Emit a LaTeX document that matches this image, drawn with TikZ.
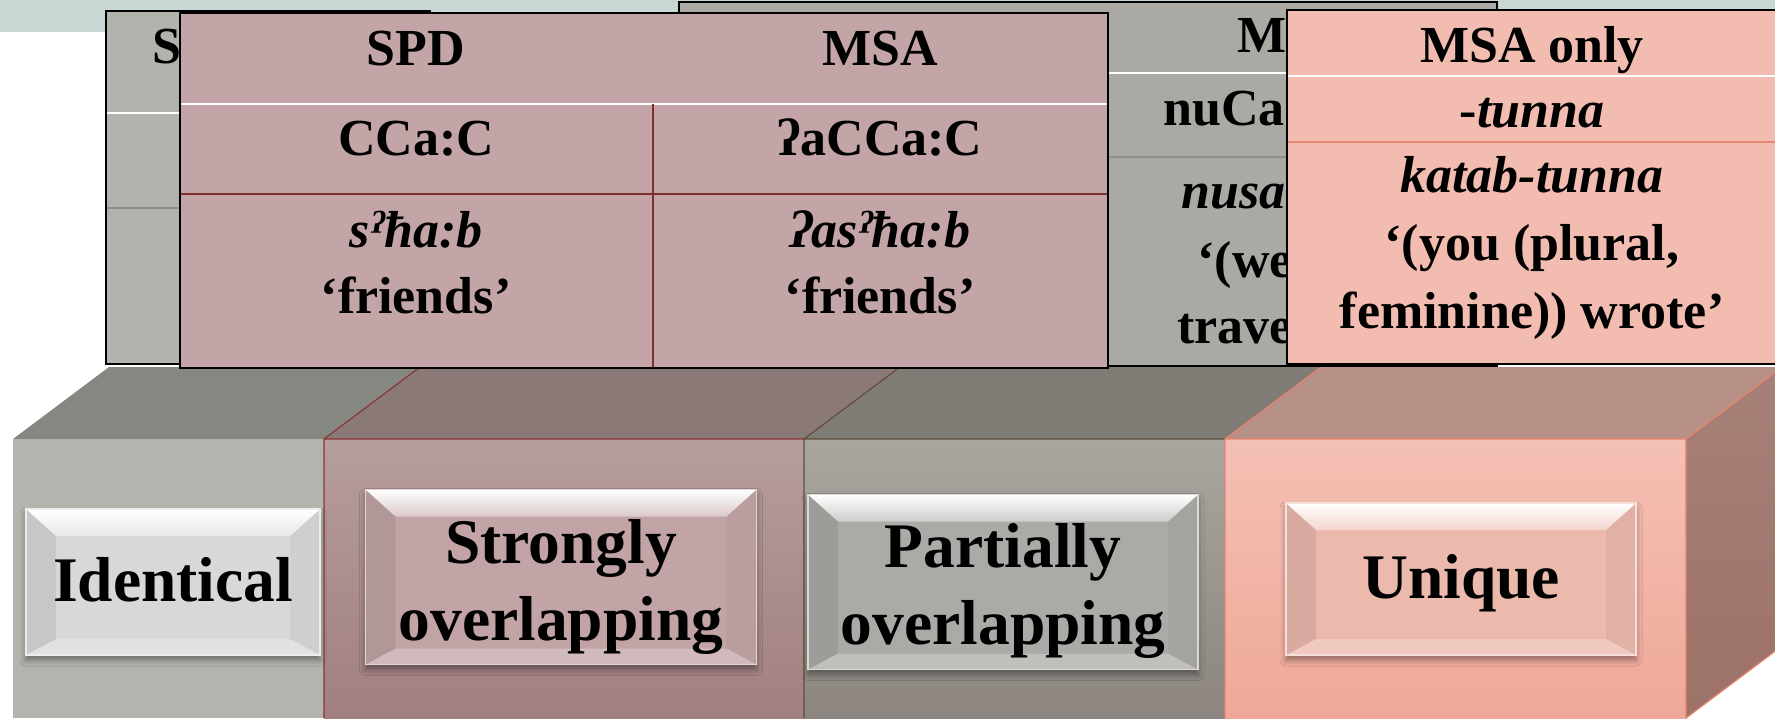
\documentclass[tikz,border=0pt]{standalone}
\usepackage{fontspec}
\setmainfont{Liberation Serif}
\usetikzlibrary{shadows.blur}

\definecolor{band}{HTML}{C8D8D4}
\definecolor{greyA}{HTML}{B1B3AC}
\definecolor{greyB}{HTML}{AAA9A4}
\definecolor{rose}{HTML}{C4A5A7}
\definecolor{salmon}{HTML}{F2BDB0}
\definecolor{greyrule}{HTML}{8C8F8A}
\definecolor{roserule}{HTML}{7D2F2F}
\definecolor{salmonrule}{HTML}{E88A72}
\definecolor{cAtop}{HTML}{858781}
\definecolor{cAfront}{HTML}{B2B4AD}
\definecolor{cBtop}{HTML}{8B7978}
\definecolor{cBhi}{HTML}{B79D9E}
\definecolor{cBlo}{HTML}{A17F80}
\definecolor{cBline}{HTML}{8A3535}
\definecolor{cCtop}{HTML}{7F7B75}
\definecolor{cChi}{HTML}{A9A69F}
\definecolor{cClo}{HTML}{8C8580}
\definecolor{cCline}{HTML}{5E4E3C}
\definecolor{cDtop}{HTML}{B79087}
\definecolor{cDhi}{HTML}{F4C0B4}
\definecolor{cDlo}{HTML}{EFA898}
\definecolor{cDside}{HTML}{9D7268}
\definecolor{cDline}{HTML}{E8836B}
\definecolor{btnA}{HTML}{D8D8D8}
\definecolor{btnB}{HTML}{C2A4A6}
\definecolor{btnC}{HTML}{ABAAA6}
\definecolor{btnD}{HTML}{ECB9AD}

\newcommand\lblfont{\fontsize{31.75}{38.5}\selectfont\bfseries}
\newcommand\tabfont{\fontsize{26}{33.5}\selectfont\bfseries}

\tikzset{
  frame/.style={draw=black, line width=1.2pt},
  whiterule/.style={draw=white, line width=1pt},
  tabtxt/.style={font=\tabfont, inner sep=0pt, anchor=base},
  tabtxtL/.style={font=\tabfont, inner sep=0pt, anchor=base west},
  lbl/.style={font=\lblfont, align=center, inner sep=0pt},
  btn/.style={fill=#1, draw=white!55!#1, line width=0.6pt, inner sep=0pt,
    blur shadow={shadow xshift=0pt, shadow yshift=-2.5pt,
                 shadow blur radius=3pt, shadow opacity=40},
    path picture={
      \fill[black, opacity=0.08]
        (path picture bounding box.north west)
        -- ([shift={(30,27)}]path picture bounding box.north west)
        -- ([shift={(30,-16)}]path picture bounding box.south west)
        -- (path picture bounding box.south west) -- cycle;
      \fill[black, opacity=0.04]
        (path picture bounding box.north east)
        -- ([shift={(-30,27)}]path picture bounding box.north east)
        -- ([shift={(-30,-16)}]path picture bounding box.south east)
        -- (path picture bounding box.south east) -- cycle;
      \fill[white, opacity=0.25]
        (path picture bounding box.south west)
        -- ([shift={(30,-16)}]path picture bounding box.south west)
        -- ([shift={(-30,-16)}]path picture bounding box.south east)
        -- (path picture bounding box.south east) -- cycle;
      \shade[top color=white, bottom color=white!40!#1]
        (path picture bounding box.north west)
        -- (path picture bounding box.north east)
        -- ([shift={(-30,27)}]path picture bounding box.north east)
        -- ([shift={(30,27)}]path picture bounding box.north west) -- cycle;
    }},
}

\begin{document}
\begin{tikzpicture}[x=0.5pt, y=-0.5pt]
\useasboundingbox (0,0) rectangle (1775,718);
\fill[white] (0,0) rectangle (1775,718);

% pale strip along the top
\fill[band] (0,0) rectangle (1775,32);

% ---- the row of four boxes ----
% box 1
\fill[cAtop] (13,439) -- (324,439) -- (420,367) -- (109,367) -- cycle;
\fill[cAfront] (13,439) rectangle (324,718);
% box 2
\fill[cBtop] (324,439) -- (804,439) -- (900,367) -- (420,367) -- cycle;
\shade[top color=cBhi, bottom color=cBlo] (324,439) rectangle (804,718);
\draw[cBline, line width=0.6pt] (324,718) -- (324,439) -- (420,367)
      (324,439) -- (804,439);
% box 3
\fill[cCtop] (804,439) -- (1225,439) -- (1321,367) -- (900,367) -- cycle;
\shade[top color=cChi, bottom color=cClo] (804,439) rectangle (1225,718);
\draw[cCline, line width=0.6pt] (804,718) -- (804,439) -- (900,367)
      (804,439) -- (1225,439);
% box 4 with its side face
\fill[cDtop] (1225,439) -- (1686,439) -- (1782,367) -- (1321,367) -- cycle;
\shade[top color=cDhi, bottom color=cDlo] (1225,439) rectangle (1686,718);
\shade[top color=cDside!90!white, bottom color=cDside]
      (1686,439) -- (1782,367) -- (1782,646) -- (1686,718) -- cycle;
\draw[cDline, line width=0.6pt] (1225,718) -- (1225,439) -- (1321,367)
      (1225,439) -- (1686,439) -- (1782,367)
      (1686,439) -- (1686,718) -- (1782,646);

% ---- bevelled plates on the box fronts ----
\node[btn=btnA, minimum width=147pt, minimum height=73pt] (identical) at (173,582) {};
\node[btn=btnB, minimum width=195.5pt, minimum height=87.5pt] (strongly) at (561,577) {};
\node[btn=btnC, minimum width=195pt, minimum height=87.5pt] (partially) at (1003,582) {};
\node[btn=btnD, minimum width=175pt, minimum height=76pt] (unique) at (1461,579) {};
\node[lbl] (identicaltxt) at (173,580) {Identical};
\node[lbl] (stronglytxt) at (561,587) {Strongly\\overlapping};
\node[lbl] (partiallytxt) at (1003,591) {Partially\\overlapping};
\node[lbl] (uniquetxt) at (1461,583) {Unique};

% ---- example tables ----
% table behind, left
\fill[greyA] (106,11) rectangle (430,364);
\draw[whiterule] (106,113) -- (430,113);
\draw[greyrule, line width=0.8pt] (106,208) -- (430,208);
\draw[frame] (106,11) rectangle (430,364);
\node[tabtxtL] (idhead) at (152,63) {SPD};

% table behind, middle
\fill[greyB] (679,2) rectangle (1497,366);
\draw[whiterule] (679,73) -- (1497,73);
\draw[greyrule, line width=0.8pt] (679,157) -- (1497,157);
\draw[frame] (679,2) rectangle (1497,366);
\node[tabtxtL] (pohead) at (1237,52) {MSA};
\node[tabtxtL] (popat) at (1163,125) {nuCa:CiC};
\node[tabtxtL] (poex) at (1181,208) {\itshape nusa:fir};
\node[tabtxtL] (pogl1) at (1197,277) {‘(we)};
\node[tabtxtL] (pogl2) at (1177,343) {travel’};

% strongly overlapping example
\fill[rose] (180,13) rectangle (1108,368);
\draw[whiterule] (180,104) -- (1108,104);
\draw[roserule, line width=0.8pt] (180,194) -- (1108,194) (653,104) -- (653,368);
\draw[frame] (180,13) rectangle (1108,368);
\node[tabtxt] (sohA) at (416,65) {SPD};
\node[tabtxt] (sohB) at (880,65) {MSA};
\node[tabtxt] (sopA) at (416,155) {CCa:C};
\node[tabtxt] (sopB) at (880,155) {ʔaCCa:C};
\node[tabtxt] (soeA) at (416,247) {\itshape sˀħa:b};
\node[tabtxt] (soeB) at (880,247) {\itshape ʔasˀħa:b};
\node[tabtxt] (sogA) at (416,313) {‘friends’};
\node[tabtxt] (sogB) at (880,313) {‘friends’};

% unique example
\fill[salmon] (1287,10) rectangle (1778,364);
\draw[whiterule] (1287,76) -- (1778,76);
\draw[salmonrule, line width=0.8pt] (1287,142) -- (1778,142);
\draw[frame] (1287,10) rectangle (1778,364);
\node[tabtxt] (unhead) at (1532,62) {MSA only};
\node[tabtxt] (unsuf) at (1532,127) {-\textit{tunna}};
\node[tabtxt] (unex) at (1532,192) {\itshape katab-tunna};
\node[tabtxt] (ungl1) at (1532,260) {‘(you (plural,};
\node[tabtxt] (ungl2) at (1532,328) {feminine)) wrote’};
\end{tikzpicture}
\end{document}
